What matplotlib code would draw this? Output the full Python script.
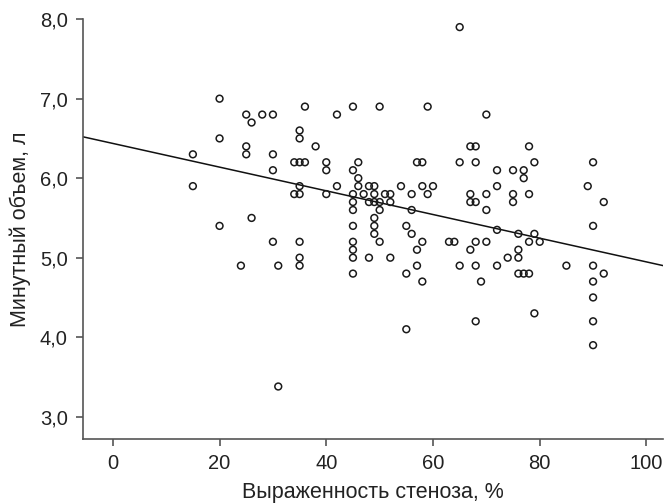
import matplotlib
matplotlib.use("Agg")
import matplotlib.pyplot as plt
import numpy as np

# Data: stenosis degree (%) and minute volume (L)
stenosis = [
    15, 15, 20, 20, 20, 24, 25, 26, 25, 25, 26, 28, 30, 30, 30, 30, 31, 31,
    34, 35, 36, 35, 35, 36, 35, 34, 35, 35, 35, 35, 38, 40, 40, 40, 42, 42,
    45, 50, 59, 46, 45, 46, 46, 48, 49, 54, 58, 60, 57, 58,
    45, 47, 49, 51, 52, 56, 59, 45, 48, 49, 50, 52, 45, 50, 56, 49,
    45, 49, 55, 49, 56, 45, 50, 58, 45, 57, 45, 48, 52, 57, 45, 55, 58, 55,
    65, 70, 67, 68, 78, 65, 68, 79, 90, 72, 75, 77, 77, 72, 89,
    67, 70, 75, 78, 67, 68, 75, 92, 70, 90, 72, 76, 79,
    63, 64, 68, 70, 78, 80, 67, 76, 74, 76, 65, 68, 72, 85, 90,
    76, 77, 78, 92, 69, 90, 90, 79, 68, 90, 90,
]
minute_volume = [
    6.3, 5.9, 7.0, 6.5, 5.4, 4.9, 6.8, 6.7, 6.4, 6.3, 5.5, 6.8, 6.8, 6.3, 6.1, 5.2, 4.9, 3.38,
    6.2, 6.2, 6.2, 6.6, 6.5, 6.9, 5.9, 5.8, 5.8, 5.2, 5.0, 4.9, 6.4, 6.2, 6.1, 5.8, 6.8, 5.9,
    6.9, 6.9, 6.9, 6.2, 6.1, 6.0, 5.9, 5.9, 5.9, 5.9, 5.9, 5.9, 6.2, 6.2,
    5.8, 5.8, 5.8, 5.8, 5.8, 5.8, 5.8, 5.7, 5.7, 5.7, 5.7, 5.7, 5.6, 5.6, 5.6, 5.5,
    5.4, 5.4, 5.4, 5.3, 5.3, 5.2, 5.2, 5.2, 5.1, 5.1, 5.0, 5.0, 5.0, 4.9, 4.8, 4.8, 4.7, 4.1,
    7.9, 6.8, 6.4, 6.4, 6.4, 6.2, 6.2, 6.2, 6.2, 6.1, 6.1, 6.1, 6.0, 5.9, 5.9,
    5.8, 5.8, 5.8, 5.8, 5.7, 5.7, 5.7, 5.7, 5.6, 5.4, 5.35, 5.3, 5.3,
    5.2, 5.2, 5.2, 5.2, 5.2, 5.2, 5.1, 5.1, 5.0, 5.0, 4.9, 4.9, 4.9, 4.9, 4.9,
    4.8, 4.8, 4.8, 4.8, 4.7, 4.7, 4.5, 4.3, 4.2, 4.2, 3.9,
]

# Regression line parameters
reg_intercept = 6.437
reg_slope = -0.0149

x_ticks = [0, 20, 40, 60, 80, 100]
x_tick_labels = ["0", "20", "40", "60", "80", "100"]
y_ticks = [3.0, 4.0, 5.0, 6.0, 7.0, 8.0]
y_tick_labels = ["3,0", "4,0", "5,0", "6,0", "7,0", "8,0"]

plt.rcParams['font.family'] = ['Liberation Sans', 'DejaVu Sans']

fig = plt.figure(figsize=(6.69, 5.04), dpi=100)
ax = fig.add_axes([0.124, 0.129, 0.867, 0.833])

xlim = (-5.6, 103.1)
ylim = (2.72, 8.0)

ax.scatter(stenosis, minute_volume, s=24, facecolors='none', edgecolors='#1a1a1a',
           linewidths=1.1, zorder=3)

xs = np.array(xlim)
ax.plot(xs, reg_intercept + reg_slope * xs, color='#111111', lw=1.1, zorder=2)

ax.set_xlim(*xlim)
ax.set_ylim(*ylim)
ax.set_xticks(x_ticks)
ax.set_xticklabels(x_tick_labels)
ax.set_yticks(y_ticks)
ax.set_yticklabels(y_tick_labels)

for s in ['top', 'right']:
    ax.spines[s].set_visible(False)
for s in ['left', 'bottom']:
    ax.spines[s].set_color('#555555')
    ax.spines[s].set_linewidth(1.2)

ax.tick_params(axis='both', direction='out', length=5, width=1.2, color='#555555',
               labelsize=14.5, labelcolor='#222222', pad=6)

ax.set_xlabel("Выраженность стеноза, %", fontsize=15.5, color='#222222', labelpad=6)
ax.set_ylabel("Минутный объем, л", fontsize=15.5, color='#222222', labelpad=6)

fig.savefig("out.png", dpi=100)
